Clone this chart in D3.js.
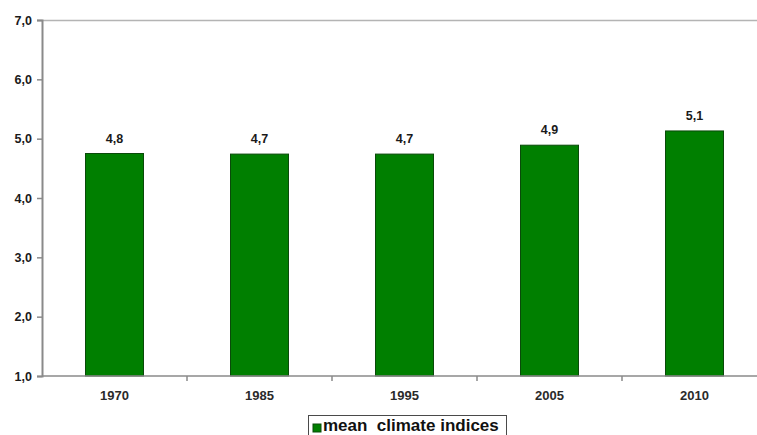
<!DOCTYPE html>
<html>
<head>
<meta charset="utf-8">
<script src="https://cdn.jsdelivr.net/npm/d3@7"></script>
<style>
  html, body { margin: 0; padding: 0; background: #ffffff; }
  svg { display: block; font-family: "Liberation Sans", Arial, sans-serif; }
</style>
</head>
<body>
<svg id="chart" width="757" height="435"></svg>
<script>
// Mean climate indices by year
const years = ["1970", "1985", "1995", "2005", "2010"];
const meanIndex = [4.75, 4.74, 4.74, 4.89, 5.13];
const yTicks = [1, 2, 3, 4, 5, 6, 7];
const seriesName = "mean  climate indices";

const svg = d3.select("#chart");
const plot = { left: 42, right: 767, top: 20, bottom: 376 };
const comma = v => d3.format(".1f")(v).replace(".", ",");

const x = d3.scaleBand().domain(years).range([plot.left, plot.right]).padding(0);
const y = d3.scaleLinear().domain([1, 7]).range([plot.bottom, plot.top]);
const barW = x.bandwidth() * 0.4;

// top border of the plot area
svg.append("line")
  .attr("x1", plot.left).attr("x2", plot.right)
  .attr("y1", plot.top + 0.5).attr("y2", plot.top + 0.5)
  .attr("stroke", "#b4b4b4").attr("stroke-width", 1.5);

// bars
svg.append("g").selectAll("rect")
  .data(years)
  .join("rect")
  .attr("x", (d, i) => x(d) + (x.bandwidth() - barW) / 2)
  .attr("y", (d, i) => y(meanIndex[i]))
  .attr("width", barW)
  .attr("height", (d, i) => y(1) - y(meanIndex[i]))
  .attr("fill", "#007f00")
  .attr("stroke", "#0a4a0a")
  .attr("stroke-width", 1);

// value labels
svg.append("g").selectAll("text")
  .data(years)
  .join("text")
  .attr("x", d => x(d) + x.bandwidth() / 2)
  .attr("y", (d, i) => y(meanIndex[i]) - 11)
  .attr("text-anchor", "middle")
  .attr("font-size", 12.5)
  .attr("font-weight", "bold")
  .attr("fill", "#1a1a1a")
  .text((d, i) => comma(meanIndex[i]));

// y axis
const yAxis = svg.append("g")
  .attr("transform", `translate(${plot.left},0)`)
  .call(d3.axisLeft(y).tickValues(yTicks).tickSize(5).tickPadding(5).tickFormat(comma));
yAxis.select(".domain").attr("stroke", "#8a8a8a").attr("stroke-width", 2);
yAxis.selectAll(".tick line").attr("stroke", "#8a8a8a").attr("stroke-width", 1.5);
yAxis.selectAll(".tick text")
  .attr("font-size", 12.5).attr("font-weight", "bold").attr("fill", "#1a1a1a")
  .attr("font-family", "'Liberation Sans', Arial, sans-serif");

// x axis: ticks sit between categories
const xAxis = svg.append("g")
  .attr("transform", `translate(0,${plot.bottom})`);
xAxis.append("line")
  .attr("x1", plot.left).attr("x2", plot.right)
  .attr("stroke", "#8a8a8a").attr("stroke-width", 1.5);
xAxis.selectAll("line.sep")
  .data(years.slice(1))
  .join("line")
  .attr("class", "sep")
  .attr("x1", d => x(d)).attr("x2", d => x(d))
  .attr("y1", 0).attr("y2", 5)
  .attr("stroke", "#8a8a8a").attr("stroke-width", 1.5);
xAxis.selectAll("text")
  .data(years)
  .join("text")
  .attr("x", d => x(d) + x.bandwidth() / 2)
  .attr("y", 24)
  .attr("text-anchor", "middle")
  .attr("font-size", 13)
  .attr("font-weight", "bold")
  .attr("fill", "#2a2a2a")
  .text(d => d);

// legend
const legend = svg.append("g").attr("transform", "translate(308,415)");
legend.append("rect")
  .attr("x", 0.5).attr("y", 0.5)
  .attr("width", 198).attr("height", 30)
  .attr("fill", "#ffffff").attr("stroke", "#4a4a4a").attr("stroke-width", 1);
legend.append("rect")
  .attr("x", 5).attr("y", 9)
  .attr("width", 8).attr("height", 8)
  .attr("fill", "#007f00").attr("stroke", "#0a4a0a");
legend.append("text")
  .attr("x", 15).attr("y", 16)
  .attr("font-size", 17).attr("font-weight", "bold")
  .attr("fill", "#111")
  .attr("xml:space", "preserve")
  .style("white-space", "pre")
  .text(seriesName);
</script>
</body>
</html>
